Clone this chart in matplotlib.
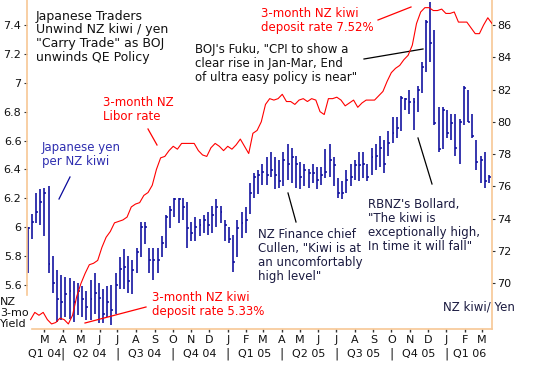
import numpy as np
import pandas as pd
import matplotlib
matplotlib.use('Agg')
import matplotlib.pyplot as plt
import matplotlib.dates as mdates
from matplotlib.lines import Line2D
from matplotlib.transforms import blended_transform_factory

# ---------------- data ----------------
week_start = '2004-02-02'
kiwi_high = [73.5, 74.3, 75.6, 75.8, 75.9, 76.0, 71.7, 70.8, 70.5, 70.4,
             70.3, 70.1, 70.0, 69.8, 69.5, 70.2, 70.6, 70.0, 69.6, 69.8,
             69.9, 70.6, 71.6, 72.1, 71.7, 71.4, 72.2, 73.8, 73.8, 72.2,
             72.2, 72.2, 72.9, 74.2, 74.8, 75.3, 75.3, 75.3, 75.0, 73.8,
             74.1, 74.0, 74.2, 74.4, 74.8, 75.2, 74.8, 73.9, 73.5, 73.0,
             73.9, 74.4, 74.7, 76.2, 76.8, 77.0, 77.4, 77.8, 78.1, 77.8,
             77.6, 78.1, 78.6, 78.4, 77.9, 77.5, 77.4, 77.1, 77.4, 77.2,
             77.2, 78.3, 78.6, 77.8, 76.5, 76.3, 77.0, 77.4, 77.6, 78.1,
             78.1, 77.4, 78.4, 78.6, 79.1, 78.9, 79.4, 80.3, 80.3, 81.6,
             81.5, 82.0, 81.5, 82.2, 83.7, 86.3, 87.4, 85.7, 80.9, 80.9,
             80.7, 80.5, 80.5, 80.2, 82.2, 82.0, 80.5, 78.9, 77.9, 78.1,
             76.7]
kiwi_low = [70.6, 72.7, 73.7, 73.6, 72.9, 70.6, 69.4, 67.6, 67.7, 67.9,
            67.8, 67.6, 68.0, 67.9, 67.7, 67.7, 68.1, 67.5, 67.5, 67.9,
            67.4, 68.1, 69.6, 69.6, 69.4, 69.3, 70.6, 71.6, 72.4, 70.6,
            70.2, 70.6, 71.6, 72.2, 73.4, 74.1, 73.7, 73.9, 72.2, 72.6,
            72.6, 72.9, 73.1, 73.0, 73.1, 73.5, 73.7, 72.6, 72.5, 70.7,
            71.6, 72.8, 73.1, 74.3, 75.3, 75.5, 76.1, 76.1, 76.6, 75.8,
            75.9, 76.0, 76.4, 76.2, 75.9, 75.8, 76.0, 75.9, 76.2, 75.8,
            76.1, 76.5, 76.6, 76.0, 75.3, 75.2, 75.6, 76.0, 76.4, 76.3,
            76.5, 76.3, 76.7, 77.0, 77.2, 76.8, 77.9, 78.7, 79.0, 79.4,
            80.7, 80.5, 79.5, 80.6, 81.8, 83.1, 83.7, 79.8, 78.1, 78.3,
            79.0, 78.9, 77.9, 77.4, 79.8, 80.0, 79.0, 77.0, 76.2, 75.9,
            76.2]
kiwi_close = [73.4, 73.8, 74.4, 75.0, 75.6, 71.2, 70.0, 69.0, 68.8, 69.3,
              69.5, 68.8, 69.5, 69.0, 68.5, 69.0, 69.4, 69.1, 68.1, 68.8,
              68.3, 69.9, 70.9, 71.0, 70.1, 70.8, 71.9, 73.5, 73.5, 71.4,
              71.4, 71.4, 72.5, 74.1, 74.5, 75.2, 75.2, 74.7, 73.4, 73.1,
              73.5, 73.6, 73.9, 73.6, 74.2, 74.7, 74.4, 73.6, 72.7, 71.3,
              73.4, 73.7, 73.9, 75.6, 76.6, 76.7, 76.9, 76.7, 77.0, 76.7,
              76.3, 77.6, 77.4, 77.8, 77.4, 76.6, 77.0, 76.8, 76.8, 76.4,
              76.7, 76.9, 77.6, 77.3, 75.6, 75.6, 76.4, 76.6, 77.3, 77.3,
              77.4, 76.6, 77.8, 77.9, 78.4, 77.4, 78.7, 79.3, 79.6, 81.5,
              81.4, 81.2, 81.2, 82.0, 83.4, 86.2, 84.9, 79.9, 78.3, 80.7,
              79.3, 79.9, 78.4, 80.0, 82.1, 80.0, 79.1, 77.5, 77.6, 76.3,
              76.6]

yield_start = '2004-02-07'
nz3m_yield = [5.36, 5.41, 5.39, 5.41, 5.36, 5.33, 5.34, 5.37, 5.36, 5.33,
              5.39, 5.52, 5.61, 5.68, 5.74, 5.75, 5.77, 5.86, 5.93, 5.97,
              6.03, 6.04, 6.05, 6.07, 6.14, 6.16, 6.17, 6.22, 6.24, 6.29,
              6.40, 6.48, 6.49, 6.53, 6.56, 6.54, 6.58, 6.58, 6.58, 6.58,
              6.53, 6.50, 6.49, 6.55, 6.58, 6.56, 6.53, 6.56, 6.54, 6.57,
              6.61, 6.56, 6.51, 6.65, 6.67, 6.73, 6.85, 6.89, 6.88, 6.89,
              6.92, 6.87, 6.87, 6.85, 6.88, 6.89, 6.87, 6.89, 6.88, 6.80,
              6.78, 6.89, 6.89, 6.90, 6.88, 6.84, 6.86, 6.88, 6.83, 6.86,
              6.88, 6.88, 6.88, 6.91, 6.94, 7.01, 7.07, 7.10, 7.12, 7.16,
              7.19, 7.26, 7.41, 7.49, 7.52, 7.52, 7.50, 7.50, 7.51, 7.48,
              7.48, 7.49, 7.42, 7.42, 7.42, 7.38, 7.34, 7.34, 7.40, 7.45,
              7.41]

left_ticks = [5.6, 5.8, 6.0, 6.2, 6.4, 6.6, 6.8, 7.0, 7.2, 7.4]
left_tick_labels = ['5.6', '5.8', '6', '6.2', '6.4', '6.6', '6.8', '7', '7.2', '7.4']
right_ticks = [70, 72, 74, 76, 78, 80, 82, 84, 86]
month_labels = ['M', 'A', 'M', 'J', 'J', 'A', 'S', 'O', 'N', 'D', 'J', 'F', 'M',
                'A', 'M', 'J', 'J', 'A', 'S', 'O', 'N', 'D', 'J', 'F', 'M']
quarter_labels = ['Q1 04', 'Q2 04', 'Q3 04', 'Q4 04', 'Q1 05',
                  'Q2 05', 'Q3 05', 'Q4 05', 'Q1 06']

# ---------------- figure ----------------
W, H = 540, 380
plt.rcParams['font.family'] = ['DejaVu Sans']
fig = plt.figure(figsize=(W / 100, H / 100), dpi=100)
fig.patch.set_facecolor('white')

def fx(x):
    return x / W

def fy(y):
    return 1 - y / H

peach = '#F7C795'
navy = '#0A0A9C'
red = '#FF0000'
txt = '#111111'

ax = fig.add_axes([fx(27), fy(329), fx(465), 329 / H])
ax2 = ax.twinx()
ax.set_zorder(2)
ax2.set_zorder(1)
ax.patch.set_visible(False)

bar_dates = pd.date_range(week_start, periods=len(kiwi_high), freq='7D')
yield_dates = pd.date_range(yield_start, periods=len(nz3m_yield), freq='7D')
bx = mdates.date2num(bar_dates)
yx = mdates.date2num(yield_dates)

ax2.vlines(bx, kiwi_low, kiwi_high, color=navy, lw=1.15)
ax2.hlines(kiwi_close, bx, bx + 3.2, color=navy, lw=1.1)

ax.plot(yx, nz3m_yield, color=red, lw=0.8)

xmin = mdates.date2num(pd.Timestamp('2004-02-01'))
xmax = mdates.date2num(pd.Timestamp('2006-03-18'))
ax.set_xlim(xmin, xmax)
ax.set_ylim(5.295, 7.573)
ax2.set_ylim(67.15, 87.55)

for s in ['top', 'right']:
    ax.spines[s].set_visible(False)
for s in ['top', 'left', 'bottom']:
    ax2.spines[s].set_visible(False)
ax.spines['left'].set_color(peach)
ax.spines['left'].set_bounds(5.53, 7.573)
ax.spines['bottom'].set_color(peach)
ax.spines['bottom'].set_bounds(mdates.date2num(pd.Timestamp('2004-02-09')), xmax)
ax2.spines['right'].set_color(peach)
for s in ['left', 'bottom']:
    ax.spines[s].set_linewidth(1.2)
ax2.spines['right'].set_linewidth(1.2)

ax.set_yticks(left_ticks)
ax.set_yticklabels(left_tick_labels)
ax.tick_params(axis='y', length=2.5, width=0.8, color='#333333', pad=1.5,
               labelsize=8, labelcolor=txt)
ax2.set_yticks(right_ticks)
ax2.set_yticklabels([str(v) for v in right_ticks])
ax2.tick_params(axis='y', length=2.5, width=0.8, color='#333333', pad=1.5,
                labelsize=8, labelcolor=txt)

month_pos = mdates.date2num(pd.date_range('2004-03-01', '2006-03-01', freq='MS'))
ax.set_xticks(month_pos)
ax.set_xticklabels(month_labels)
ax.tick_params(axis='x', length=2, width=1, color='#333333', pad=2.5,
               labelsize=8, labelcolor=txt)

# quarter labels
qb = [xmin] + list(mdates.date2num(pd.date_range('2004-04-01', '2006-01-01', freq='QS'))) + [xmax]
trans = blended_transform_factory(ax.transData, ax.transAxes)
for i, lab in enumerate(quarter_labels):
    ax.annotate(lab, xy=((qb[i] + qb[i + 1]) / 2, 0), xycoords=trans,
                xytext=(0, -18), textcoords='offset points',
                ha='center', va='center', fontsize=8, color=txt,
                annotation_clip=False)
for b in qb[1:-1]:
    ax.annotate('|', xy=(b, 0), xycoords=trans, xytext=(0, -18),
                textcoords='offset points', ha='center', va='center',
                fontsize=9, color=txt, annotation_clip=False)

# ---------------- annotations ----------------
def ftext(x, y, s, color, size=8.5, ls=1.1, **kw):
    fig.text(fx(x), fy(y), s, color=color, fontsize=size, va='top',
             ha=kw.pop('ha', 'left'), linespacing=ls, **kw)

def fline(x0, y0, x1, y1, color, lw=0.9):
    fig.add_artist(Line2D([fx(x0), fx(x1)], [fy(y0), fy(y1)],
                          color=color, lw=lw, transform=fig.transFigure))

ftext(36, 10, 'Japanese Traders\nUnwind NZ kiwi / yen\n"Carry Trade" as BOJ\nunwinds QE Policy',
      txt, size=9, ls=1.05)
ftext(103, 96, '3-month NZ\nLibor rate', red)
fline(148, 129, 157, 145, red)
ftext(42, 141, 'Japanese yen\nper NZ kiwi', '#2E2EB0')
fline(70, 177, 59, 199, navy)
ftext(195, 43, 'BOJ\'s Fuku, "CPI to show a\nclear rise in Jan-Mar, End\nof ultra easy policy is near"', txt)
fline(364, 59, 423, 49, '#000000')
ftext(261, 7, '3-month NZ kiwi\ndeposit rate 7.52%', red)
fline(378, 20, 411, 7, red)
ftext(258, 228, 'NZ Finance chief\nCullen, "Kiwi is at\nan uncomfortably\nhigh level"', '#1A1A40')
fline(288, 193, 296, 222, '#000000')
ftext(368, 198, 'RBNZ\'s Bollard,\n"The kiwi is\nexceptionally high,\nIn time it will fall"', '#1A1A40')
fline(418, 138, 432, 184, '#000000')
ftext(152, 291, '3-month NZ kiwi\ndeposit rate 5.33%', red)
fline(85, 323, 146, 307, red)
ftext(0, 297, 'NZ\n3-mo\nYield', txt, size=8, ls=1.1)
ftext(443, 301, 'NZ kiwi/ Yen', '#1A1A40')

fig.savefig('out.png', dpi=100, facecolor='white')
